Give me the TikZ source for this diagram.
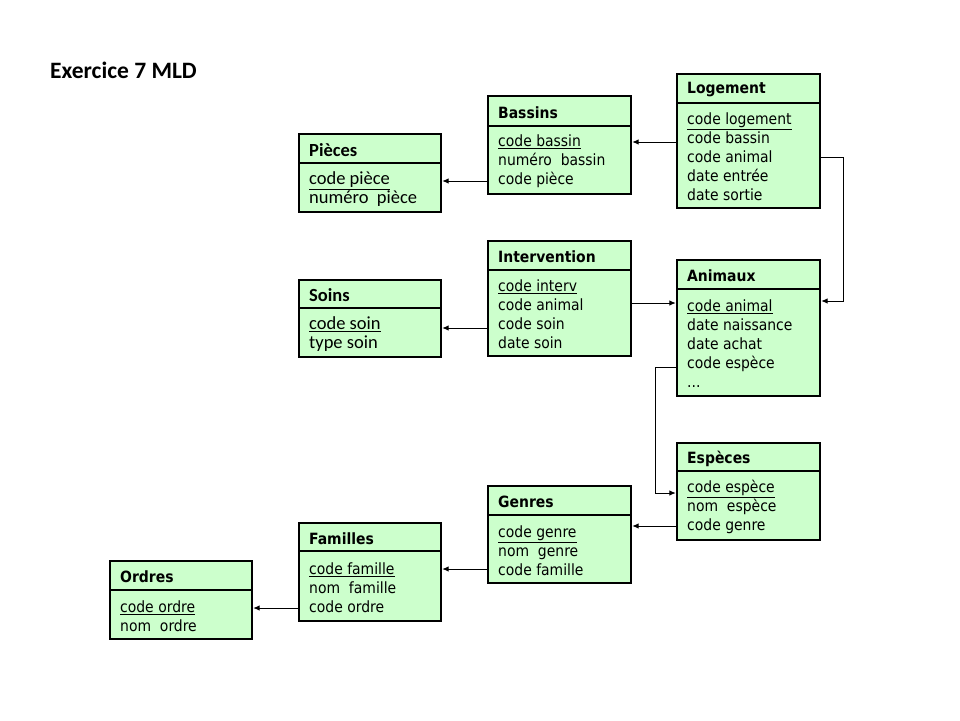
\documentclass[tikz,border=0pt]{standalone}
\usepackage{fontspec}
\usetikzlibrary{arrows.meta}
\newfontfamily\tahfam{DejaVu Sans Condensed}
\newfontfamily\calfam{Carlito}
\definecolor{boxgreen}{HTML}{CCFFCC}
\newcommand{\tahf}{\tahfam\fontsize{15.5}{19}\selectfont}
\newcommand{\calf}{\calfam\fontsize{18.5}{19}\selectfont}
\newcommand{\entity}[9][\tahf]{%
  \node[ebox, minimum width=#5, minimum height=#6, anchor=north west] (#2-h) at (#3,#4) {};
  \node[anchor=west, inner sep=0pt, font=#1\bfseries] (#2-ht) at ([xshift=10pt,yshift=-1.5pt]#2-h.west) {#8};
  \node[ebox, minimum width=#5, minimum height=#7, anchor=north west] (#2) at (#2-h.south west) {};
  \node[anchor=west, inner sep=0pt, align=left, font=#1] (#2-t) at ([xshift=10pt,yshift=-1.5pt]#2.west) {#9};
}
\tikzset{
  ebox/.style={draw=black, line width=2.4pt, fill=boxgreen, outer sep=0pt, inner sep=0pt},
  arr/.style={-{Latex[length=6.5pt,width=5.5pt]}, line width=1pt, shorten >=1.2pt}
}
\begin{document}
\begin{tikzpicture}[x=1pt,y=-1pt]
\useasboundingbox (0,0) rectangle (960,720);
\node[anchor=west, inner sep=0pt, font=\calfam\bfseries\fontsize{23.5}{28}\selectfont] (title) at (50,70) {Exercice 7 MLD};

\entity{logement}{677}{74}{143}{29}{105}{Logement}{\underline{code logement}\\code bassin\\code animal\\date entrée\\date sortie}
\entity{bassins}{488}{96}{143}{30}{68}{Bassins}{\underline{code bassin}\\numéro\ \ bassin\\code pièce}
\entity[\calf]{pieces}{299}{134}{142}{29}{49}{Pièces}{\underline{code pièce}\\numéro\ \ pièce}
\entity{interv}{488}{241}{143}{29}{86}{Intervention}{\underline{code interv}\\code animal\\code soin\\date soin}
\entity[\calf]{soins}{299}{280}{142}{28}{49}{Soins}{\underline{code soin}\\type soin}
\entity{animaux}{677}{260}{143}{29}{107}{Animaux}{\underline{code animal}\\date naissance\\date achat\\code espèce\\...}
\entity{especes}{677}{443}{143}{28}{69}{Espèces}{\underline{code espèce}\\nom\ \ espèce\\code genre}
\entity{genres}{488}{486}{143}{29}{68}{Genres}{\underline{code genre}\\nom\ \ genre\\code famille}
\entity{familles}{299}{523}{142}{28}{70}{Familles}{\underline{code famille}\\nom\ \ famille\\code ordre}
\entity{ordres}{110}{561}{142}{29}{49}{Ordres}{\underline{code ordre}\\nom\ \ ordre}

\draw[arr] (logement.west |- 0,142) -- (bassins.east |- 0,142);
\draw[arr] (bassins.west |- 0,181) -- (pieces.east |- 0,181);
\draw[arr] (logement.east |- 0,157) -- (843,157) |- (animaux.east |- 0,301);
\draw[arr] (interv.east |- 0,303) -- (animaux.west |- 0,303);
\draw[arr] (interv.west |- 0,328) -- (soins.east |- 0,328);
\draw[arr] (animaux.west |- 0,367) -- (655,367) |- (especes.west |- 0,493);
\draw[arr] (especes.west |- 0,526) -- (genres.east |- 0,526);
\draw[arr] (genres.west |- 0,569) -- (familles.east |- 0,569);
\draw[arr] (familles.west |- 0,608) -- (ordres.east |- 0,608);
\end{tikzpicture}
\end{document}
